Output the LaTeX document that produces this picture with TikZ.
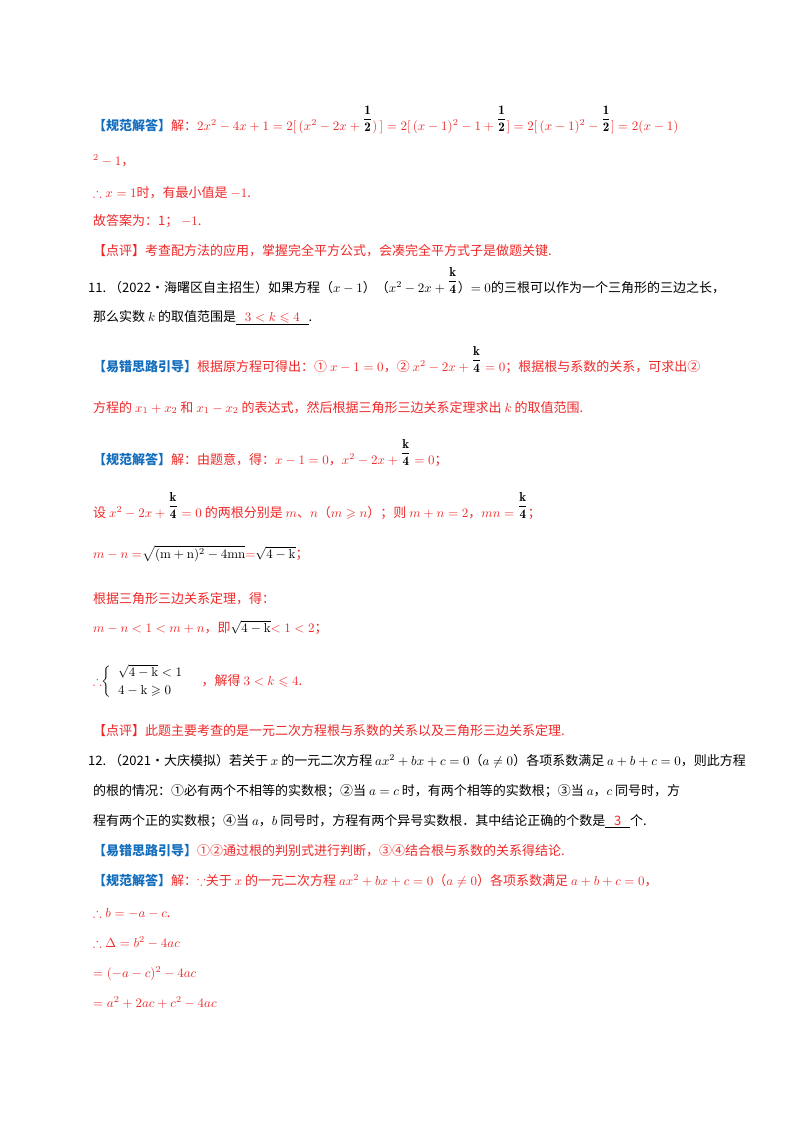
\documentclass[tikz,border=0pt]{standalone}
\usepackage{amsmath,amssymb}
\usepackage{fontspec}
\newfontfamily\cjk{Noto Sans CJK SC}
\definecolor{rd}{RGB}{240,40,40}
\definecolor{bl}{RGB}{20,110,190}
\newcommand{\fr}[2]{\raisebox{1.0ex}{\color{black}$\dfrac{\mathbf{#1}}{\mathbf{#2}}$}}
\newcommand{\lb}[1]{{\color{bl}\bfseries 【#1】}}
\newcommand{\sz}[1]{\scalebox{1.3}{#1}}
\begin{document}
\begin{tikzpicture}[x=1pt,y=-1pt,
  ln/.style={anchor=base west,inner sep=0pt,font=\cjk\fontsize{10}{12}\selectfont,text=rd},
  bk/.style={ln,text=black}]
\useasboundingbox (0,0) rectangle (800,1132);
\fill[white] (0,0) rectangle (800,1132);
\node[ln] (a1) at (93,130) {\sz{\lb{规范解答}解：$2x^2-4x+1=2[\,(x^2-2x+\fr{1}{2})\,]=2[\,(x-1)^2-1+\fr{1}{2}]=2[\,(x-1)^2-\fr{1}{2}]=2(x-1)$}};
\node[ln] (a2) at (93,165) {\sz{$^2-1$，}};
\node[ln] (a3) at (93,197) {\sz{$\therefore x=1$时，有最小值是 $-1$.}};
\node[ln] (a4) at (93,225) {\sz{故答案为：1； $-1$.}};
\node[ln] (a5) at (93,255) {\sz{【点评】考查配方法的应用，掌握完全平方公式，会凑完全平方式子是做题关键.}};
\node[bk] (q1) at (88,292) {\sz{11.\ （2022•海曙区自主招生）如果方程（$x-1$）（$x^2-2x+\fr{k}{4}$）$=0$的三根可以作为一个三角形的三边之长，}};
\node[bk] (q2) at (93,321) {\sz{那么实数 $k$ 的取值范围是\underline{\color{rd}\ \ \ $3<k\leqslant4$\ \ \ }.}};
\node[ln] (b1) at (93,371) {\sz{\lb{易错思路引导}根据原方程可得出：① $x-1=0$，② $x^2-2x+\fr{k}{4}=0$；根据根与系数的关系，可求出②}};
\node[ln] (b2) at (93,412) {\sz{方程的 $x_1+x_2$ 和 $x_1-x_2$ 的表达式，然后根据三角形三边关系定理求出 $k$ 的取值范围.}};
\node[ln] (c1) at (93,464) {\sz{\lb{规范解答}解：由题意，得：$x-1=0$，$x^2-2x+\fr{k}{4}=0$；}};
\node[ln] (c2) at (93,517) {\sz{设 $x^2-2x+\fr{k}{4}=0$ 的两根分别是 $m$、$n$（$m\geqslant n$）；则 $m+n=2$，$mn=\fr{k}{4}$；}};
\node[ln] (c3) at (93,558) {\sz{$m-n=${\color{black}$\sqrt{(\mathrm{m+n})^2-4\mathrm{mn}}$}$=${\color{black}$\sqrt{4-\mathrm{k}}$}；}};
\node[ln] (c4) at (93,603) {\sz{根据三角形三边关系定理，得：}};
\node[ln] (c5) at (93,632) {\sz{$m-n<1<m+n$，即{\color{black}$\sqrt{4-\mathrm{k}}$}$<1<2$；}};
\node[ln] (c6) at (93,685) {\sz{$\therefore${\color{black}$\left\{\begin{array}{l}\sqrt{4-\mathrm{k}}<1\\[2pt] 4-\mathrm{k}\geqslant0\end{array}\right.$}\ \ \ \ ，解得 $3<k\leqslant4$.}};
\node[ln] (c7) at (93,735) {\sz{【点评】此题主要考查的是一元二次方程根与系数的关系以及三角形三边关系定理.}};
\node[bk] (d1) at (88,765) {\sz{12.\ （2021•大庆模拟）若关于 $x$ 的一元二次方程 $ax^2+bx+c=0$（$a\neq0$）各项系数满足 $a+b+c=0$，则此方程}};
\node[bk] (d2) at (93,795) {\sz{的根的情况：①必有两个不相等的实数根；②当 $a=c$ 时，有两个相等的实数根；③当 $a$，$c$ 同号时，方}};
\node[bk] (d3) at (93,825) {\sz{程有两个正的实数根；④当 $a$，$b$ 同号时，方程有两个异号实数根．其中结论正确的个数是\underline{\color{rd}\ \ \ 3\ \ \ }个.}};
\node[ln] (e1) at (93,855) {\sz{\lb{易错思路引导}①②通过根的判别式进行判断，③④结合根与系数的关系得结论.}};
\node[ln] (e2) at (93,885) {\sz{\lb{规范解答}解：$\because$关于 $x$ 的一元二次方程 $ax^2+bx+c=0$（$a\neq0$）各项系数满足 $a+b+c=0$，}};
\node[ln] (e3) at (93,917) {\sz{$\therefore b=-a-c$.}};
\node[ln] (e4) at (93,947) {\sz{$\therefore\Delta=b^2-4ac$}};
\node[ln] (e5) at (93,977) {\sz{$=(-a-c)^2-4ac$}};
\node[ln] (e6) at (93,1007) {\sz{$=a^2+2ac+c^2-4ac$}};
\end{tikzpicture}
\end{document}
